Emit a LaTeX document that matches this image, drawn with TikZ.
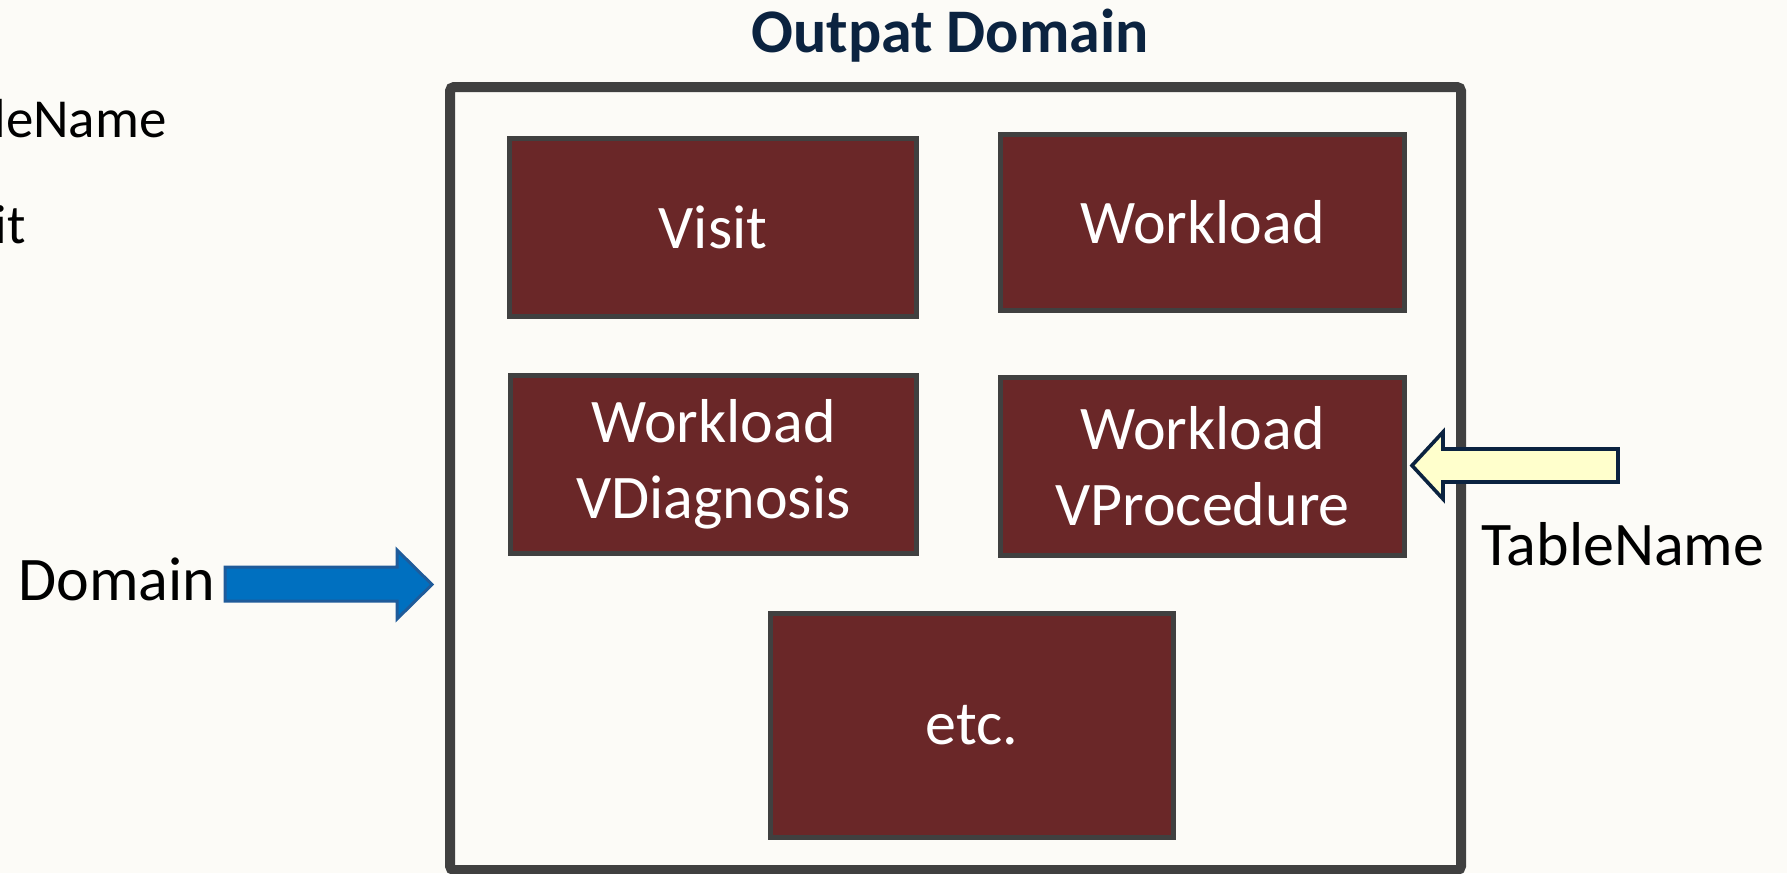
\documentclass[tikz,border=0pt]{standalone}
\usepackage{fontspec}
\setmainfont{Carlito}
\definecolor{bg}{HTML}{FCFBF7}
\definecolor{boxfill}{HTML}{6A2728}
\definecolor{boxline}{HTML}{404040}
\definecolor{navy}{HTML}{0B2340}
\definecolor{blueA}{HTML}{0070C0}
\definecolor{blueB}{HTML}{1F5B9A}
\definecolor{paleyel}{HTML}{FFFFCC}
\tikzset{
  tbl/.style={draw=boxline, fill=boxfill, line width=2.5pt, text=white, align=center,
    inner sep=0pt, font=\fontsize{31}{38}\selectfont},
  lbl/.style={inner sep=0pt, font=\fontsize{31}{38}\selectfont, text=black},
  smalllbl/.style={inner sep=0pt, font=\fontsize{27.5}{33}\selectfont, text=black},
}
\begin{document}
\begin{tikzpicture}[x=0.5pt,y=-0.5pt]
\useasboundingbox (0,0) rectangle (1787,873);
\clip (0,0) rectangle (1787,873);
\fill[bg] (0,0) rectangle (1787,873);
% title
\node[lbl, anchor=base, text=navy, font=\fontsize{31}{38}\selectfont\bfseries] (title) at (950,52) {Outpat Domain};
% outer domain box
\draw[boxline, line width=5pt, rounded corners=2pt] (450,87) rectangle (1461,870);
% tables
\node[tbl, minimum width=203.5pt, minimum height=89pt] (visit) at (713,227.5) {Visit};
\node[tbl, minimum width=202pt, minimum height=88pt] (work) at (1202.5,222.5) {Workload};
\node[tbl, minimum width=203pt, minimum height=89pt] (vdiag) at (713.5,464.5) {Workload\\VDiagnosis};
\node[tbl, minimum width=202pt, minimum height=89pt] (vproc) at (1202.5,466.5) {Workload\\VProcedure};
\node[tbl, minimum width=201.5pt, minimum height=112pt] (etc) at (972,725.5) {etc.};
% left clipped labels
\node[smalllbl, anchor=base east] (tn0) at (167,137) {TableName};
\node[smalllbl, anchor=base east] (vi0) at (26,243) {Visit};
% Domain label and arrow
\node[lbl, anchor=base west] (domlbl) at (18,600) {Domain};
\draw[blueB, fill=blueA, line width=1.5pt, line join=miter]
  (225,567) -- (397,567) -- (397,550) -- (432,584.5) -- (397,619) -- (397,601) -- (225,601) -- cycle;
% TableName label and arrow
\node[lbl, anchor=base west] (tnlbl) at (1481,565) {TableName};
\draw[navy, fill=paleyel, line width=1.8pt, line join=miter]
  (1618,449) -- (1443,449) -- (1443,432) -- (1412,465.5) -- (1443,499) -- (1443,482) -- (1618,482) -- cycle;
\end{tikzpicture}
\end{document}
